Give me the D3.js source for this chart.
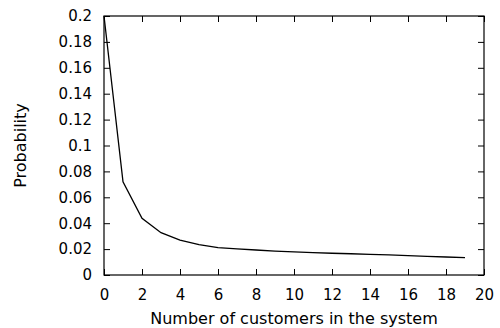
<!DOCTYPE html>
<html>
<head>
<meta charset="utf-8">
<script src="https://cdn.jsdelivr.net/npm/d3@7"></script>
<style>
  body { margin: 0; background: #fff; }
  text { font-family: "DejaVu Sans", sans-serif; fill: #000; }
</style>
</head>
<body>
<div id="chart"></div>
<script>
// number of customers in the system
const customers = d3.range(0, 20);
const probability = [0.2, 0.072, 0.0438, 0.0327, 0.027, 0.0234, 0.0211, 0.0201, 0.0193, 0.0185,
  0.0178, 0.0173, 0.0168, 0.0164, 0.016, 0.0155, 0.0149, 0.0144, 0.0139, 0.0134];
const xTicks = d3.range(0, 21, 2);
const yTicks = [0, 0.02, 0.04, 0.06, 0.08, 0.1, 0.12, 0.14, 0.16, 0.18, 0.2];

const trueWidth = 500, trueHeight = 328;
const margin = {top: 16, right: 16, bottom: 53, left: 104};
const width = trueWidth - margin.left - margin.right;
const height = trueHeight - margin.top - margin.bottom;
const tick = 6;

const svg = d3.select("#chart").append("svg")
  .attr("width", trueWidth)
  .attr("height", trueHeight)
  .append("g")
    .attr("transform", "translate(" + margin.left + "," + margin.top + ")");

const x = d3.scaleLinear().domain([0, 20]).range([0, width]);
const y = d3.scaleLinear().domain([0, 0.2]).range([height, 0]);

// ticks pointing inward, mirrored on top and right
const xAxis = d3.axisBottom(x).tickValues(xTicks).tickSize(-tick).tickPadding(14).tickFormat(d3.format("d"));
const xTop = d3.axisTop(x).tickValues(xTicks).tickSize(-tick).tickFormat("");
const yAxis = d3.axisLeft(y).tickValues(yTicks).tickSize(-tick).tickPadding(12).tickFormat(d => d === 0 ? "0" : String(+d.toFixed(2)));
const yRight = d3.axisRight(y).tickValues(yTicks).tickSize(-tick).tickFormat("");

function style(g) {
  g.select(".domain").remove();
  g.selectAll("line").attr("stroke", "#000").attr("stroke-width", 1);
  g.selectAll("text").attr("font-size", 15).attr("font-family", "DejaVu Sans, sans-serif");
}

svg.append("g").attr("transform", "translate(0," + height + ")").call(xAxis).call(style);
svg.append("g").call(xTop).call(style);
svg.append("g").call(yAxis).call(style);
svg.append("g").attr("transform", "translate(" + width + ",0)").call(yRight).call(style);

// border
svg.append("rect")
  .attr("x", 0).attr("y", 0)
  .attr("width", width).attr("height", height)
  .attr("fill", "none").attr("stroke", "#000").attr("stroke-width", 1.2);

const valueline = d3.line()
  .x((d, i) => x(customers[i]))
  .y(d => y(d));

svg.append("path")
  .datum(probability)
  .attr("fill", "none")
  .attr("stroke", "#000")
  .attr("stroke-width", 1.3)
  .attr("d", valueline);

svg.append("text")
  .attr("x", width / 2)
  .attr("y", height + 49)
  .attr("text-anchor", "middle")
  .attr("font-size", 16)
  .text("Number of customers in the system");

svg.append("text")
  .attr("transform", "translate(" + (-78) + "," + (height / 2) + ") rotate(-90)")
  .attr("text-anchor", "middle")
  .attr("font-size", 16)
  .text("Probability");
</script>
</body>
</html>
